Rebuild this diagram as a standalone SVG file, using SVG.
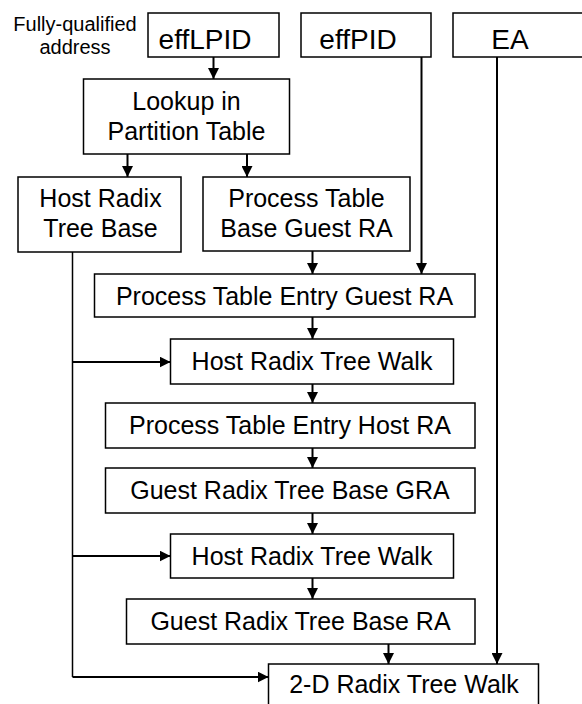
<svg xmlns="http://www.w3.org/2000/svg" width="582" height="704" viewBox="0 0 582 704">
<style>
  .box { fill: #ffffff; stroke: #000000; stroke-width: 1.5; }
  .t { font-family: "Liberation Sans", Arial, sans-serif; font-size: 25px; fill: #000000; text-anchor: middle; }
  .tt { font-family: "Liberation Sans", Arial, sans-serif; font-size: 28px; fill: #000000; text-anchor: middle; }
  .lbl { font-family: "Liberation Sans", Arial, sans-serif; font-size: 20px; fill: #000000; text-anchor: middle; }
  .c { fill: none; stroke: #000000; stroke-width: 2; }
  .thin { fill: none; stroke: #000000; stroke-width: 1.5; }
</style>
<defs>
  <marker id="ah" markerUnits="userSpaceOnUse" markerWidth="11" markerHeight="11" refX="11" refY="5.5" orient="auto">
    <path d="M0,0 L11,5.5 L0,11 Z" fill="#000000"/>
  </marker>
</defs>
<rect width="582" height="704" fill="#ffffff"/>

<g id="label">
  <text class="lbl" x="75" y="31">Fully-qualified</text>
  <text class="lbl" x="75" y="54">address</text>
</g>

<g id="connectors">
  <line class="c" x1="213.5" y1="57" x2="213.5" y2="79" marker-end="url(#ah)"/>
  <line class="c" x1="127.5" y1="154" x2="127.5" y2="177" marker-end="url(#ah)"/>
  <line class="c" x1="247" y1="154" x2="247" y2="177" marker-end="url(#ah)"/>
  <line class="c" x1="421.5" y1="57" x2="421.5" y2="274" marker-end="url(#ah)"/>
  <line class="c" x1="497" y1="57" x2="497" y2="664" marker-end="url(#ah)"/>
  <line class="c" x1="312.5" y1="251" x2="312.5" y2="274" marker-end="url(#ah)"/>
  <line class="c" x1="312.5" y1="317" x2="312.5" y2="339" marker-end="url(#ah)"/>
  <line class="c" x1="312.5" y1="384" x2="312.5" y2="403" marker-end="url(#ah)"/>
  <line class="c" x1="312.5" y1="448" x2="312.5" y2="468" marker-end="url(#ah)"/>
  <line class="c" x1="312.5" y1="513" x2="312.5" y2="534" marker-end="url(#ah)"/>
  <line class="c" x1="312.5" y1="578" x2="312.5" y2="599" marker-end="url(#ah)"/>
  <line class="c" x1="388.5" y1="644" x2="388.5" y2="664" marker-end="url(#ah)"/>
  <path class="thin" d="M72.5,252 V677"/>
  <line class="c" x1="72.5" y1="362" x2="170.5" y2="362" marker-end="url(#ah)"/>
  <line class="c" x1="72.5" y1="556" x2="170.5" y2="556" marker-end="url(#ah)"/>
  <line class="c" x1="72.5" y1="677" x2="268.5" y2="677" marker-end="url(#ah)"/>
</g>

<g id="effLPID">
  <rect class="box" x="148" y="13" width="131" height="44"/>
  <text class="tt" x="205" y="49">effLPID</text>
</g>
<g id="effPID">
  <rect class="box" x="301" y="13" width="130" height="44"/>
  <text class="tt" x="358" y="49">effPID</text>
</g>
<g id="EA">
  <rect class="box" x="453" y="13" width="140" height="44"/>
  <text class="tt" x="510" y="49">EA</text>
</g>
<g id="lookup">
  <rect class="box" x="83.5" y="79" width="206" height="75"/>
  <text class="t" x="186.5" y="110">Lookup in</text>
  <text class="t" x="186.5" y="140">Partition Table</text>
</g>
<g id="hostRadixTreeBase">
  <rect class="box" x="18" y="177" width="163" height="75"/>
  <text class="t" x="100.5" y="207">Host Radix</text>
  <text class="t" x="100.5" y="237">Tree Base</text>
</g>
<g id="processTableBaseGuestRA">
  <rect class="box" x="203" y="177" width="207" height="74"/>
  <text class="t" x="306.5" y="207">Process Table</text>
  <text class="t" x="306.5" y="237">Base Guest RA</text>
</g>
<g id="pteGuestRA">
  <rect class="box" x="94.5" y="274" width="380.5" height="43"/>
  <text class="t" x="284.5" y="305">Process Table Entry Guest RA</text>
</g>
<g id="hostRadixTreeWalk1">
  <rect class="box" x="170.5" y="339" width="283" height="45"/>
  <text class="t" x="312" y="370">Host Radix Tree Walk</text>
</g>
<g id="pteHostRA">
  <rect class="box" x="105.5" y="403" width="369.5" height="45"/>
  <text class="t" x="290" y="434">Process Table Entry Host RA</text>
</g>
<g id="guestRadixTreeBaseGRA">
  <rect class="box" x="105.5" y="468" width="369.5" height="45"/>
  <text class="t" x="290" y="499">Guest Radix Tree Base GRA</text>
</g>
<g id="hostRadixTreeWalk2">
  <rect class="box" x="170.5" y="534" width="283" height="44"/>
  <text class="t" x="312" y="565">Host Radix Tree Walk</text>
</g>
<g id="guestRadixTreeBaseRA">
  <rect class="box" x="126.5" y="599" width="348.5" height="45"/>
  <text class="t" x="300.5" y="630">Guest Radix Tree Base RA</text>
</g>
<g id="radixTreeWalk2D">
  <rect class="box" x="268.5" y="664" width="270" height="44"/>
  <text class="t" x="404" y="693">2-D Radix Tree Walk</text>
</g>
</svg>
